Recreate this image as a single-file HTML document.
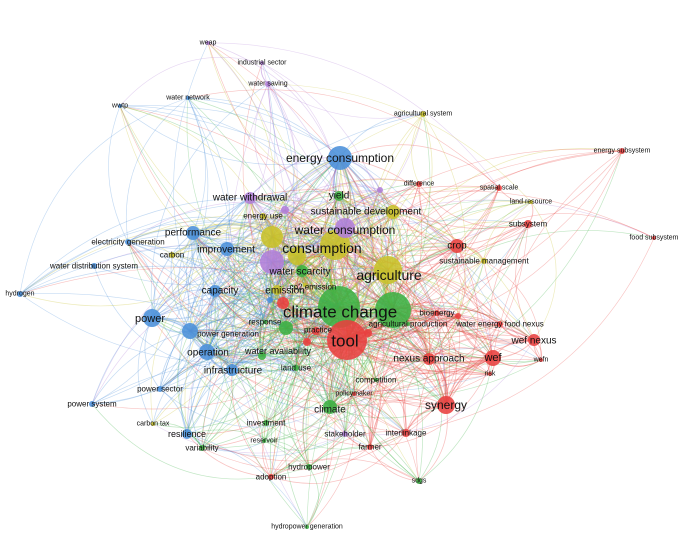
<!DOCTYPE html>
<html><head><meta charset="utf-8">
<style>
html,body{margin:0;padding:0;background:#fff;}
svg{display:block;}
text{font-family:"Liberation Sans",Arial,sans-serif;fill:#111;text-anchor:middle;dominant-baseline:central;}
</style></head>
<body>
<svg id="s" width="683" height="553" viewBox="0 0 683 553" xmlns="http://www.w3.org/2000/svg">
<g id="e" fill="none"></g>
<g id="n"></g>
<g id="t"></g>
</svg>
<script>
var B="#4a90d9",G="#3cb043",R="#e8403f",Y="#c8c22a",P="#b07fd8";
var N=[
[340,158,12,B,"energy consumption",12,340,158],
[339,307,21,G,"climate change",17,340,312],
[393,310,18,G,"",0],
[347,340,20,R,"tool",17,345,341],
[335,245,15,Y,"consumption",14,322,248],
[345,228,10,P,"water consumption",12,345,230],
[388,270,14,Y,"agriculture",14,389,275],
[393,212,7,Y,"sustainable development",10,366,212],
[339,196,5,G,"yield",10,339,196],
[272,237,11,Y,"",0],
[272,262,12,P,"",0],
[297,256,9,Y,"",0],
[302,271,6,G,"water scarcity",10,300,272],
[277,290,5,Y,"emission",10,285,291],
[305,285,2,Y,"co2 emission",8,313,287],
[283,303,6,R,"",0],
[286,328,7,G,"",0],
[265,322,2,G,"response",8,265,322],
[316,331,4,R,"practice",8,318,330],
[262,356,4,G,"water availability",9,278,351],
[296,368,3,G,"land use",8,296,368],
[215,291,6,B,"capacity",10,220,291],
[152,318,9,B,"power",11,150,319],
[190,331,8,B,"power generation",8,228,334],
[207,352,8,B,"operation",10,208,353],
[232,370,6,B,"infrastructure",10,233,371],
[193,233,7,B,"performance",10,193,233],
[227,249,7,B,"improvement",10,226,250],
[250,198,6,P,"water withdrawal",10,250,198],
[285,210,4,P,"",0],
[263,216,3,Y,"energy use",8,263,216],
[128,242,3,B,"electricity generation",8,128,242],
[172,255,3,Y,"carbon",8,172,255],
[94,266,3,B,"water distribution system",8,94,266],
[20,294,3,B,"hydrogen",7,20,294],
[120,106,2,B,"wwtp",7,120,106],
[188,98,2,B,"water network",7,188,98],
[208,43,2,P,"weap",7,208,43],
[262,63,2,P,"industrial sector",7,262,63],
[268,84,3,P,"water saving",7,268,84],
[423,114,3,Y,"agricultural system",7,423,114],
[622,151,3,R,"energy subsystem",7,622,151],
[419,184,3,R,"difference",7,419,184],
[499,188,3,R,"spatial scale",7,499,188],
[531,202,2,Y,"land resource",7,531,202],
[528,224,4,R,"subsystem",8,528,224],
[654,238,2,R,"food subsystem",7,654,238],
[457,246,7,R,"crop",10,457,246],
[484,261,3,Y,"sustainable management",8,484,261],
[437,313,3,R,"bioenergy",8,437,313],
[408,324,2,G,"agricultural production",8,408,324],
[500,324,3,R,"water energy food nexus",8,500,324],
[534,340,6,R,"wef nexus",10,534,341],
[493,358,8,R,"wef",11,493,358],
[541,360,2,R,"wefn",7,541,360],
[490,374,2,R,"risk",7,490,374],
[429,359,6,R,"nexus approach",10,429,359],
[446,405,9,R,"synergy",12,446,405],
[376,380,2,G,"competition",8,376,380],
[354,394,2,R,"policymaker",7,354,394],
[330,407,7,G,"climate",10,330,410],
[266,423,3,G,"investment",8,266,423],
[264,441,2,G,"reservoir",7,264,441],
[345,434,3,P,"stakeholder",8,345,434],
[406,433,4,R,"interlinkage",8,406,433],
[370,447,3,R,"farmer",8,370,447],
[309,467,3,G,"hydropower",8,309,467],
[271,477,3,R,"adoption",8,271,477],
[419,481,3,G,"sdgs",7,419,481],
[307,527,2,G,"hydropower generation",7,307,527],
[187,434,5,B,"resilience",9,187,434],
[202,448,3,G,"variability",8,202,448],
[153,424,2,Y,"carbon tax",7,153,424],
[160,389,3,B,"power sector",8,160,389],
[92,404,3,B,"power system",8,92,404],
[368,333,4,R,"",0],[307,342,4,R,"",0],[458,316,3,R,"",0],[380,190,3,P,"",0],[270,300,3,B,"",0]
];
var seed=7;function rnd(){seed=(seed*16807)%2147483647;return seed/2147483647;}
var eg=document.getElementById("e"),h="";
for(var i=0;i<N.length;i++){for(var j=0;j<N.length;j++){if(i==j)continue;
 var a=N[i],b=N[j],dx=b[0]-a[0],dy=b[1]-a[1],d=Math.sqrt(dx*dx+dy*dy)+1;
 var w=(a[2]+2.5)*(b[2]+2.5)/(d*2.6);
 if(rnd()<Math.min(0.95,w)){
  var side=rnd()<0.5?1:-1,k=(0.2+0.15*rnd())*side;
  var cx=(a[0]+b[0])/2-dy*k,cy=(a[1]+b[1])/2+dx*k;
  var sw=0.6+Math.min(3,w*0.7);
  h+='<path d="M'+a[0]+' '+a[1]+'Q'+cx.toFixed(1)+' '+cy.toFixed(1)+' '+b[0]+' '+b[1]+'" stroke="'+a[3]+'" stroke-opacity="0.32" stroke-width="'+sw.toFixed(2)+'"/>';
 }}}
eg.innerHTML=h;
var nh="",th="";
N.forEach(function(a){nh+='<circle cx="'+a[0]+'" cy="'+a[1]+'" r="'+a[2]+'" fill="'+a[3]+'" fill-opacity="0.88"/>';
 if(a[4])th+='<text x="'+a[6]+'" y="'+a[7]+'" font-size="'+a[5]+'">'+a[4]+'</text>';});
document.getElementById("n").innerHTML=nh;document.getElementById("t").innerHTML=th;
</script>
</body></html>
